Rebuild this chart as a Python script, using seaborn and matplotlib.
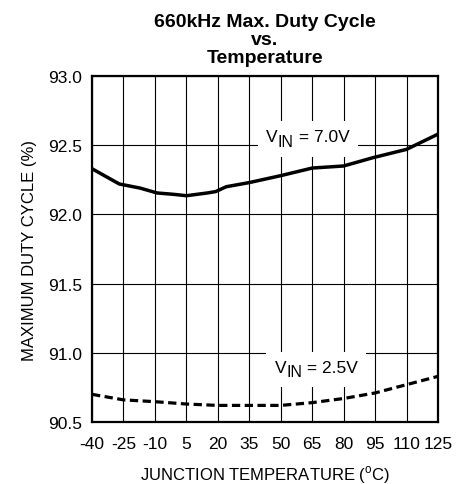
import numpy as np
import pandas as pd
import matplotlib
matplotlib.use('Agg')
import matplotlib.pyplot as plt
import seaborn as sns
from matplotlib.offsetbox import TextArea, HPacker, VPacker, DrawingArea, AnnotationBbox

# junction temperature (C)
temp_hi = [-40, -27, -17, -9, -1, 5, 15, 19, 24, 35, 50, 65, 80, 94, 110, 125]
duty_hi = [92.33, 92.22, 92.19, 92.155, 92.145, 92.135, 92.155, 92.165, 92.20,
           92.23, 92.28, 92.335, 92.35, 92.41, 92.47, 92.58]

temp_lo = [-40, -25, -10, 5, 20, 35, 50, 65, 80, 95, 110, 125]
duty_lo = [90.70, 90.66, 90.647, 90.63, 90.62, 90.62, 90.62, 90.64, 90.67,
           90.71, 90.77, 90.83]

x_ticks = [-40, -25, -10, 5, 20, 35, 50, 65, 80, 95, 110, 125]
y_ticks = [90.5, 91.0, 91.5, 92.0, 92.5, 93.0]

sns.set_style('white')
plt.rcParams['font.family'] = ['Liberation Sans', 'DejaVu Sans']
plt.rcParams['mathtext.fontset'] = 'custom'
plt.rcParams['mathtext.rm'] = 'Liberation Sans'
plt.rcParams['text.color'] = 'black'
plt.rcParams['axes.labelcolor'] = 'black'

df_hi = pd.DataFrame({'temp': temp_hi, 'duty': duty_hi})
df_lo = pd.DataFrame({'temp': temp_lo, 'duty': duty_lo})

fig = plt.figure(figsize=(4.58, 4.85), dpi=100)
ax = fig.add_axes([0.2009, 0.1278, 0.7554, 0.7134])

sns.lineplot(data=df_hi, x='temp', y='duty', ax=ax, color='black', linewidth=2.5)
sns.lineplot(data=df_lo, x='temp', y='duty', ax=ax, color='black', linewidth=2.3,
             linestyle=(0, (2.6, 1.4)))

ax.set_xlim(-40, 125)
ax.set_ylim(90.5, 93.0)
ax.set_xticks(x_ticks)
ax.set_yticks(y_ticks)
ax.set_xticklabels([str(t) for t in x_ticks])
ax.set_yticklabels(['%.1f' % v for v in y_ticks])
ax.grid(True, color='black', linewidth=0.8)
ax.set_axisbelow(True)
for s in ax.spines.values():
    s.set_visible(True)
    s.set_color('black')
    s.set_linewidth(1.6)
ax.tick_params(axis='both', length=0, labelsize=12.5, colors='black')
ax.tick_params(axis='x', pad=10)
ax.tick_params(axis='y', pad=7)

ax.set_xlabel(r'JUNCTION TEMPERATURE ($^{\mathrm{o}}$C)', fontsize=12, labelpad=9)
ax.set_ylabel('MAXIMUM DUTY CYCLE (%)', fontsize=12, labelpad=8)
ax.set_title('660kHz Max. Duty Cycle\nvs.\nTemperature', fontsize=14,
             fontweight='bold', linespacing=1.1, pad=10)


def vin_label(x, y, value):
    # V with a lowered "IN", then the value, on a white box
    tp = dict(size=12.5, color='black')
    sub = VPacker(children=[DrawingArea(1, 3), TextArea('IN', textprops=dict(size=11.5, color='black'))],
                  align='left', pad=0, sep=0)
    row = HPacker(children=[TextArea('V', textprops=tp), sub,
                            TextArea(' = ' + value, textprops=tp)],
                  align='top', pad=0, sep=0)
    ab = AnnotationBbox(row, (x, y), xycoords='data', frameon=True, pad=0.6,
                        bboxprops=dict(facecolor='white', edgecolor='none'))
    ax.add_artist(ab)


vin_label(63, 92.545, '7.0V')
vin_label(67, 90.88, '2.5V')

plt.savefig('out.png', dpi=100)
